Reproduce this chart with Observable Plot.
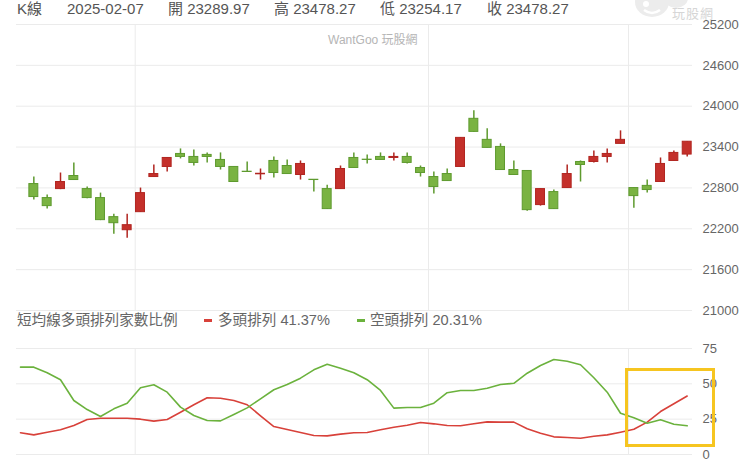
<!DOCTYPE html>
<html><head><meta charset="utf-8">
<script src="https://cdn.jsdelivr.net/npm/d3@7"></script>
<script src="https://cdn.jsdelivr.net/npm/@observablehq/plot@0.6"></script>
<style>
body{margin:0;background:#fff;}
#wrap{position:relative;width:740px;height:467px;overflow:hidden;background:#fff;font-family:"Liberation Sans","Noto Sans CJK TC",sans-serif;}
.abs{position:absolute;white-space:nowrap;}
.hdr{top:0px;font-size:15px;line-height:18px;color:#555;}
.leg{top:311px;font-size:14.6px;line-height:18px;color:#666;}
.dash{position:absolute;width:8px;height:3px;top:319px;}
#top,#bot{position:absolute;left:0;}
#top{top:0;} #bot{top:340px;}
</style></head><body><div id="wrap">
<svg style="position:absolute;left:630px;top:-12px" width="70" height="32">
  <ellipse cx="22" cy="14" rx="17" ry="15" fill="#ececec"/>
  <ellipse cx="46" cy="10" rx="12" ry="10" fill="#ececec"/>
  <ellipse cx="16" cy="16" rx="3" ry="3" fill="#fff"/>
  <path d="M14 22 Q22 28 30 22" stroke="#fff" stroke-width="2.5" fill="none"/>
</svg>
<div id="top"></div><div id="bot"></div>
</div>
<script>
// ---- data ----
const dates = ["2024-11-20","2024-11-21","2024-11-22","2024-11-25","2024-11-26","2024-11-27","2024-11-28","2024-11-29",
"2024-12-02","2024-12-03","2024-12-04","2024-12-05","2024-12-06","2024-12-09","2024-12-10","2024-12-11","2024-12-12","2024-12-13",
"2024-12-16","2024-12-17","2024-12-18","2024-12-19","2024-12-20","2024-12-23","2024-12-24","2024-12-25","2024-12-26","2024-12-27","2024-12-30","2024-12-31",
"2025-01-02","2025-01-03","2025-01-06","2025-01-07","2025-01-08","2025-01-09","2025-01-10","2025-01-13","2025-01-14","2025-01-15","2025-01-16","2025-01-17","2025-01-20","2025-01-21","2025-01-22",
"2025-02-03","2025-02-04","2025-02-05","2025-02-06","2025-02-07"];
const open  = [22857,22651,22783,22975,22783,22651,22371,22179,22444,22960,23108,23299,23255,23285,23211,23108,23038,23000,23196,23122,22990,22920,22783,22783,23240,23215,23255,23240,23255,23093,22960,23004,23108,23815,23506,23402,23063,23049,22548,22739,22798,23181,23181,23255,23447,22798,22830,22887,23196,23289.97];
const high  = [22960,22695,23019,23167,22813,22724,22415,22415,22798,23137,23245,23373,23358,23314,23314,23112,23181,23078,23255,23211,23196,22922,22840,23122,23314,23285,23314,23314,23314,23122,23034,23078,23540,23933,23668,23447,23196,23052,22786,22769,23137,23196,23343,23373,23638,22800,22916,23240,23343,23478.27];
const low   = [22621,22489,22775,22910,22640,22320,22120,22061,22440,22955,23034,23226,23122,23167,23063,22882,23030,22916,22946,23000,22916,22739,22485,22780,23090,23152,23208,23196,23152,22960,22710,22898,23100,23618,23385,23060,22985,22459,22533,22485,22795,22887,23167,23167,23445,22503,22724,22884,23194,23254.17];
const close = [22666,22533,22887,22916,22651,22327,22282,22253,22724,23004,23240,23255,23167,23255,23108,22887,23034,23008,23019,23004,23152,22916,22489,23078,23093,23211,23211,23255,23167,23019,22813,22901,23535,23623,23388,23063,22990,22474,22783,22489,23004,23137,23255,23299,23506,22680,22769,23152,23314,23478.27];
// breadth lines start one trading day earlier (2024-11-19)
const lineDates = ["2024-11-19", ...dates];
const bullPct = [15.4,13.9,15.8,17.5,20.5,24.8,25.7,25.7,25.7,25.0,23.6,24.8,29.9,35.2,40.1,39.8,38.2,35.2,27.4,19.8,17.7,15.6,13.4,13.2,14.4,15.4,15.6,17.5,19.3,20.7,22.6,21.7,20.5,20.3,21.7,23.1,22.9,22.9,18.2,15.1,12.5,12.0,11.5,12.9,13.9,15.8,17.9,22.9,30.4,35.9,41.37];
const bearPct = [61.8,61.8,57.8,52.9,38.2,31.8,26.9,32.3,36.3,47.2,49.3,44.1,33.5,27.6,24.1,23.8,28.3,33.0,39.4,45.8,49.5,54.0,59.9,63.9,61.1,57.8,52.9,45.3,32.8,33.3,33.3,36.3,43.7,45.3,45.3,46.9,49.5,50.4,57.5,63.0,67.2,66.0,63.5,54.3,44.1,29.2,26.0,22.1,24.6,21.4,20.31];
const priceTicks = [21000,21600,22200,22800,23400,24000,24600,25200];
const pctTicks = [0,25,50,75];
const header = ["K線","2025-02-07","開 23289.97","高 23478.27","低 23254.17","收 23478.27"];
const legendTitle = "短均線多頭排列家數比例";
const seriesNames = ["多頭排列","空頭排列"];

// ---- build ----
const RED_F="#c4302b", RED_S="#b12520", GRN_F="#7ab342", GRN_S="#5e9a2e";
const LINE_R="#d8413a", LINE_G="#6bb23d", GRID="#ebebeb";
const candles = dates.map((d,k)=>({date:d,i:lineDates.indexOf(d),o:open[k],h:high[k],l:low[k],c:close[k],up:close[k]>=open[k]}));
const monthStarts = lineDates.map((d,i)=> i>0 && d.slice(0,7)!==lineDates[i-1].slice(0,7) ? i : null).filter(v=>v!==null);
const bull = bullPct.map((v,i)=>({i,v}));
const bear = bearPct.map((v,i)=>({i,v}));
const xs = {type:"linear",domain:[0,50],range:[20,686.7],axis:null};
const style = {fontFamily:'"Liberation Sans","Noto Sans CJK TC",sans-serif',background:"transparent",overflow:"visible"};

const topChart = Plot.plot({
  width:740,height:316,marginTop:24,marginBottom:6,marginLeft:16,marginRight:48,
  x:xs, y:{domain:[21000,25200],range:[310,24],axis:null}, style,
  marks:[
    Plot.ruleY(priceTicks,{stroke:GRID}),
    Plot.ruleX(monthStarts,{x:d=>d-0.4,stroke:GRID}),
    Plot.text(priceTicks,{y:d=>d,frameAnchor:"right",dx:10,textAnchor:"start",text:d=>String(d),fill:"#666",fontSize:13}),
    Plot.ruleX(candles,{filter:d=>d.up,x:"i",y1:"l",y2:"h",stroke:RED_S,strokeWidth:1.5}),
    Plot.ruleX(candles,{filter:d=>!d.up,x:"i",y1:"l",y2:"h",stroke:GRN_S,strokeWidth:1.5}),
    Plot.rect(candles,{filter:d=>d.up,x1:d=>d.i-0.5,x2:d=>d.i+0.5,y1:"o",y2:"c",insetLeft:2.2,insetRight:2.2,fill:RED_F,stroke:RED_S,strokeWidth:1}),
    Plot.rect(candles,{filter:d=>!d.up,x1:d=>d.i-0.5,x2:d=>d.i+0.5,y1:"o",y2:"c",insetLeft:2.2,insetRight:2.2,fill:GRN_F,stroke:GRN_S,strokeWidth:1})
  ]
});
document.getElementById("top").appendChild(topChart);

const botChart = Plot.plot({
  width:740,height:127,marginTop:8,marginBottom:13,marginLeft:16,marginRight:48,
  x:xs, y:{domain:[0,75],range:[114,8],axis:null}, style,
  marks:[
    Plot.ruleY(pctTicks,{stroke:GRID}),
    Plot.ruleX(monthStarts,{x:d=>d-0.4,stroke:GRID}),
    Plot.text(pctTicks,{y:d=>d,frameAnchor:"right",dx:10,textAnchor:"start",text:d=>String(d),fill:"#666",fontSize:13}),
    Plot.line(bull,{x:"i",y:"v",stroke:LINE_R,strokeWidth:1.6}),
    Plot.line(bear,{x:"i",y:"v",stroke:LINE_G,strokeWidth:1.6})
  ]
});
document.getElementById("bot").appendChild(botChart);

// ---- text overlays ----
const wrap = document.getElementById("wrap");
function add(html, cls, css){const e=document.createElement("div");e.className=cls;e.style.cssText=css;e.textContent=html;wrap.appendChild(e);return e;}
const hx=[17,67,168,274,380,487];
header.forEach((t,k)=>add(t,"abs hdr",`left:${hx[k]}px`));
add("WantGoo 玩股網","abs",`left:328px;top:33px;font-size:12px;line-height:14px;color:#b5b5b5;`);
add("玩股網","abs",`left:672px;top:7px;font-size:13px;line-height:14px;color:#d6d6d6;letter-spacing:1px;`);
add(legendTitle,"abs leg","left:17px");
const d1=document.createElement("div");d1.className="dash";d1.style.cssText+=`left:204px;background:${LINE_R}`;wrap.appendChild(d1);
add(`${seriesNames[0]} ${bullPct[bullPct.length-1].toFixed(2)}%`,"abs leg","left:218px");
const d2=document.createElement("div");d2.className="dash";d2.style.cssText+=`left:357px;background:${LINE_G}`;wrap.appendChild(d2);
add(`${seriesNames[1]} ${bearPct[bearPct.length-1].toFixed(2)}%`,"abs leg","left:370px");
const box=document.createElement("div");box.style.cssText="position:absolute;left:625px;top:368px;width:90px;height:79px;box-sizing:border-box;border:3px solid #f6c520;";
wrap.appendChild(box);
</script>
</body></html>
